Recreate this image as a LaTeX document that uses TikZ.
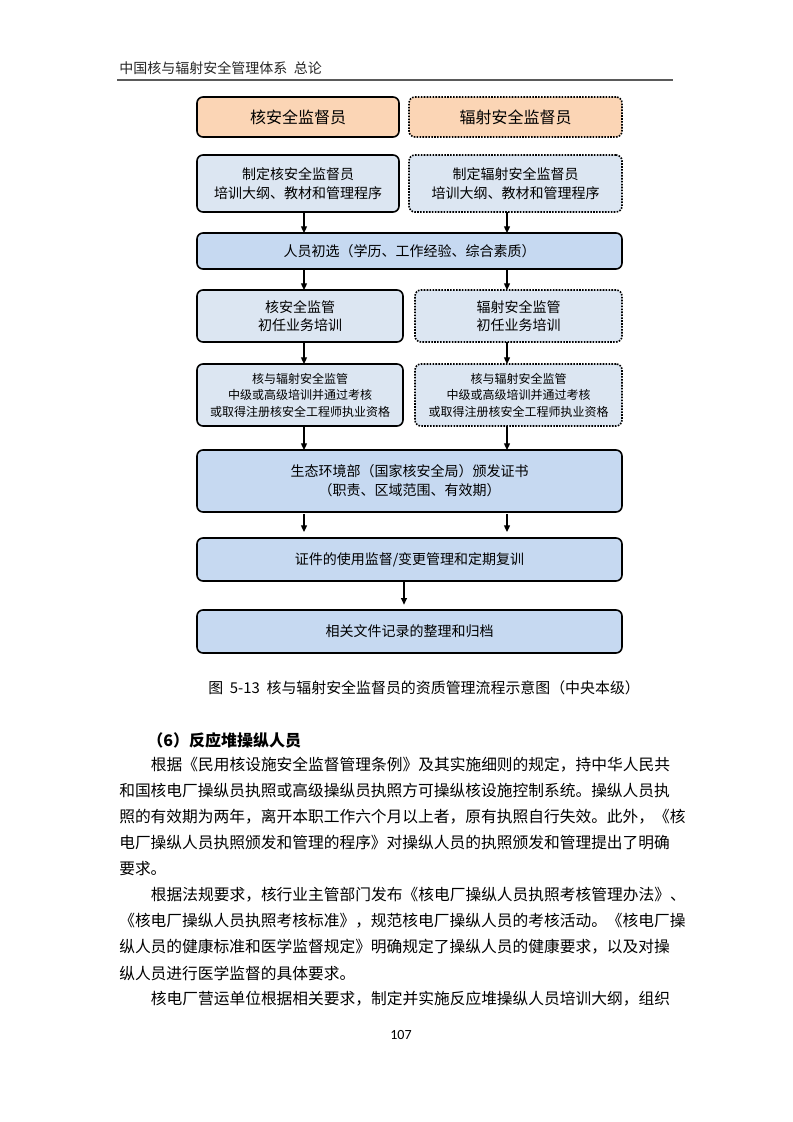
\documentclass[tikz,border=0pt]{standalone}
\usepackage{fontspec}
\setmainfont{Noto Sans CJK SC}
\newfontfamily\pagenofont{Carlito}
\usepackage{tikz}
\usetikzlibrary{arrows.meta}
\definecolor{peach}{HTML}{FBD5B5}
\definecolor{paleblue}{HTML}{DCE6F2}
\definecolor{midblue}{HTML}{C6D9F1}
\definecolor{rulegray}{HTML}{5A5A5A}
\newcommand*\px{0.75pt}
\newcommand*\boxline{1.2pt}
\newcommand*\cjkglue{\hskip0pt plus 1pt minus 0.6pt\relax}
% stretchable glue between CJK characters (for justified lines)
\XeTeXinterchartokenstate=1
\XeTeXinterchartoks 1 1 = {\cjkglue}
\XeTeXinterchartoks 1 2 = {\cjkglue}
\XeTeXinterchartoks 1 3 = {\cjkglue}
\XeTeXinterchartoks 2 1 = {\cjkglue}
\XeTeXinterchartoks 3 1 = {\cjkglue}
\XeTeXinterchartoks 3 2 = {\cjkglue}
\XeTeXinterchartoks 2 2 = {\cjkglue}
\XeTeXinterchartoks 3 3 = {\cjkglue}
\tikzset{
    box/.style      = {draw, line width=\boxline, rounded corners=4.5pt,
                      anchor=north west, align=center,
                      inner sep=0pt, outer sep=0pt,
                      font=\fontsize{10.5}{14}\selectfont},
    boxsize/.style 2 args = {minimum width=#1*\px, minimum height=#2*\px},
    orangebox/.style = {box, fill=peach, font=\fontsize{12}{14}\selectfont},
    palebox/.style   = {box, fill=paleblue},
    midbox/.style    = {box, fill=midblue},
    dotbox/.style    = {densely dotted},
    smalltext/.style = {font=\fontsize{9}{12.4}\selectfont},
    flow/.style      = {line width=0.9pt, -{Triangle[length=5pt,width=4.5pt]}},
    bodyline/.style  = {anchor=west, inner sep=0pt,
                      font=\fontsize{11.8}{14}\selectfont},
  }
\begin{document}
\begin{tikzpicture}[x=\px, y=-\px]
        \useasboundingbox (0,0) rectangle (793,1122);
        \fill[white] (0,0) rectangle (793,1122);

        % Page header
        \node[anchor=west, inner sep=0pt, text=black!85, font=\fontsize{10.5}{12}\selectfont]
            (head) at (119,68) {\makebox[148pt][s]{中国核与辐射安全管理体系\hspace{5pt}总论}};
        \draw[line width=2pt, rulegray] (117,80) -- (673,80);

        % Boxes of the flow chart (left: nuclear, right: radiation)
        \node[orangebox, boxsize={202}{40}] (nhead) at (197,97) {核安全监督员};
        \node[orangebox, dotbox, boxsize={213}{40}] (rhead) at (409,97) {辐射安全监督员};
        \node[palebox, boxsize={202}{57}] (nplan) at (197,155) {制定核安全监督员\\培训大纲、教材和管理程序};
        \node[palebox, dotbox, boxsize={213}{57}] (rplan) at (409,155) {制定辐射安全监督员\\培训大纲、教材和管理程序};
        \node[midbox, boxsize={425}{36}] (select) at (197,233) {人员初选（学历、工作经验、综合素质）};
        \node[palebox, boxsize={206}{52}] (ninit) at (197,290) {核安全监管\\初任业务培训};
        \node[palebox, dotbox, boxsize={207}{52}] (rinit) at (415,290) {辐射安全监管\\初任业务培训};
        \node[palebox, smalltext, boxsize={206}{62}] (nexam) at (197,364)
            {核与辐射安全监管\\中级或高级培训并通过考核\\或取得注册核安全工程师执业资格};
        \node[palebox, dotbox, smalltext, boxsize={207}{62}] (rexam) at (415,364)
            {核与辐射安全监管\\中级或高级培训并通过考核\\或取得注册核安全工程师执业资格};
        \node[midbox, boxsize={425}{62}] (issue) at (197,450) {生态环境部（国家核安全局）颁发证书\\（职责、区域范围、有效期）};
        \node[midbox, boxsize={425}{43}] (usage) at (197,538) {证件的使用监督/变更管理和定期复训};
        \node[midbox, boxsize={425}{43}] (archive) at (197,610) {相关文件记录的整理和归档};

        % Arrows: columns where they run
        \coordinate (colL) at (304,0);
        \coordinate (colR) at (507,0);
        \coordinate (colM) at (404,0);
        \foreach \a/\b/\c in {nplan/select/colL, rplan/select/colR,
                              select/ninit/colL, select/rinit/colR,
                              ninit/nexam/colL, rinit/rexam/colR,
                              nexam/issue/colL, rexam/issue/colR} {
            \draw[flow] (\a.south -| \c) -- (\b.north -| \c);
        }
        \foreach \c in {colL,colR} {
            \draw[flow, shorten <=1.5pt, shorten >=4.5pt] (issue.south -| \c) -- (usage.north -| \c);
        }
        \draw[flow, shorten >=4pt] (usage.south -| colM) -- (archive.north -| colM);

        % Caption
        \node[anchor=west, inner sep=0pt, font=\fontsize{11.2}{13}\selectfont]
            (cap) at (208,688) {图\hspace{5pt}5-13\hspace{5pt}核与辐射安全监督员的资质管理流程示意图（中央本级）};

        % Section heading
        \node[bodyline, font=\fontsize{12}{14}\selectfont\bfseries] (sec) at (147,740) {（6）反应堆操纵人员};

        % Body text: full (justified) lines
        \foreach \row/\ind/\txt in {
            0/2/根据《民用核设施安全监督管理条例》及其实施细则的规定，持中华人民共,
            1/0/和国核电厂操纵员执照或高级操纵员执照方可操纵核设施控制系统。操纵人员执,
            2/0/照的有效期为两年，离开本职工作六个月以上者，原有执照自行失效。此外，《核,
            3/0/电厂操纵人员执照颁发和管理的程序》对操纵人员的执照颁发和管理提出了明确,
            5/2/根据法规要求，核行业主管部门发布《核电厂操纵人员执照考核管理办法》、,
            6/0/《核电厂操纵人员执照考核标准》，规范核电厂操纵人员的考核活动。《核电厂操,
            7/0/纵人员的健康标准和医学监督规定》明确规定了操纵人员的健康要求，以及对操,
            9/2/核电厂营运单位根据相关要求，制定并实施反应堆操纵人员培训大纲，组织} {
            \pgfmathsetlengthmacro\linew{(554-\ind*15.8)*0.75pt}
            \node[bodyline] (line\row) at (119+\ind*15.8, 765+26*\row) {\makebox[\linew][s]{\txt}};
        }
        % Body text: last lines of paragraphs
        \node[bodyline] (line4) at (119,869) {要求。};
        \node[bodyline] (line8) at (119,973) {纵人员进行医学监督的具体要求。};

        % Page number
        \node[inner sep=0pt, font=\pagenofont\fontsize{10.5}{12}\selectfont] (pageno) at (401,1035) {107};
\end{tikzpicture}
\end{document}
